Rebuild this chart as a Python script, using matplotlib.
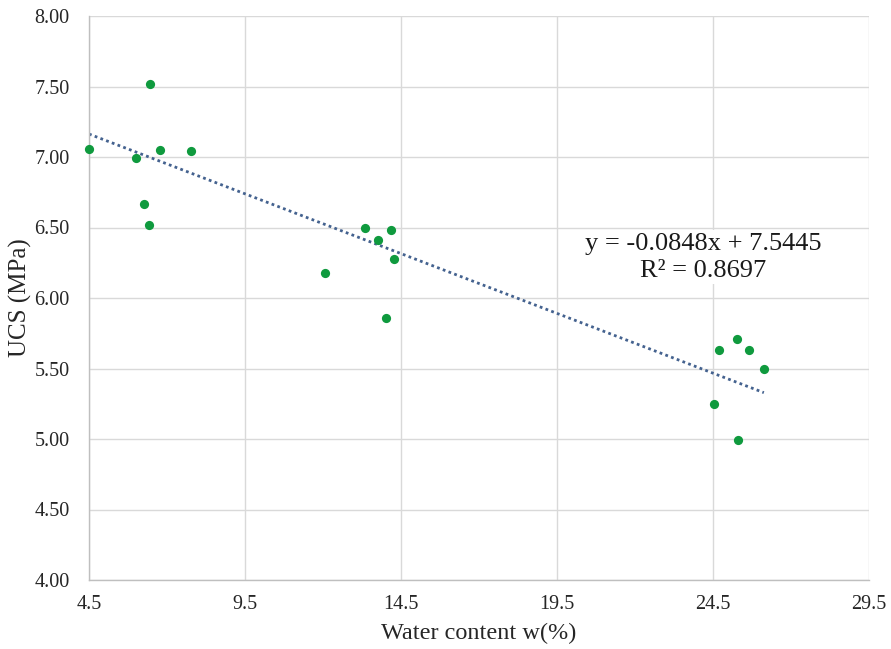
import matplotlib
matplotlib.use("Agg")
import matplotlib.pyplot as plt
import numpy as np

water_content = [4.5, 6.45, 6.0, 6.78, 7.77, 6.26, 6.42,
                 12.06, 13.35, 13.76, 14.18, 14.28, 14.02,
                 24.53, 24.69, 25.27, 25.30, 25.65, 26.13]
ucs = [7.06, 7.52, 6.99, 7.05, 7.04, 6.67, 6.52,
       6.18, 6.50, 6.41, 6.48, 6.28, 5.86,
       5.25, 5.63, 5.71, 4.99, 5.63, 5.50]
slope = -0.0848
intercept = 7.5445
r2 = 0.8697
x_ticks = [4.5, 9.5, 14.5, 19.5, 24.5, 29.5]
y_ticks = [4.0, 4.5, 5.0, 5.5, 6.0, 6.5, 7.0, 7.5, 8.0]

plt.rcParams['font.family'] = ['Liberation Serif', 'DejaVu Serif']

fig = plt.figure(figsize=(8.91, 6.49), dpi=100)
ax = fig.add_axes([89/891, 1-580/649, (869-89)/891, (580-16)/649])

ax.set_xlim(4.5, 29.5)
ax.set_ylim(4.0, 8.0)
ax.set_xticks(x_ticks)
ax.set_xticklabels([f"{v:.1f}" for v in x_ticks])
ax.set_yticks(y_ticks)
ax.set_yticklabels([f"{v:.2f}" for v in y_ticks])
ax.grid(True, color='#d9d9d9', linewidth=1.0)
ax.set_axisbelow(True)
for s in ['top', 'right']:
    ax.spines[s].set_visible(False)
for s in ['left', 'bottom']:
    ax.spines[s].set_color('#bfbfbf')
    ax.spines[s].set_linewidth(1.0)
ax.tick_params(axis='y', length=0, labelsize=14.5, pad=14)
ax.tick_params(axis='x', length=0, labelsize=14.5, pad=11)
for lab in ax.get_xticklabels() + ax.get_yticklabels():
    lab.set_color('#262626')

xs = np.array([min(water_content), max(water_content)])
ax.plot(xs, slope * xs + intercept, linestyle=(0, (1, 1.2)), color='#44628f',
        linewidth=2.0, zorder=2)
ax.scatter(water_content, ucs, s=44, color='#0f9a3e', zorder=3, linewidths=0,
           clip_on=False)

ax.text(0.787, 0.572, f"y = {slope:.4f}x + {intercept:.4f}\nR² = {r2:.4f}",
        transform=ax.transAxes, ha='center', va='center', fontsize=19,
        color='#1a1a1a', linespacing=1.25,
        bbox=dict(facecolor='white', edgecolor='none', pad=2))

ax.set_xlabel('Water content w(%)', fontsize=17.5, color='#262626', labelpad=6)
ax.set_ylabel('UCS (MPa)', fontsize=18, color='#262626', labelpad=2)

fig.savefig('out.png', dpi=100)
